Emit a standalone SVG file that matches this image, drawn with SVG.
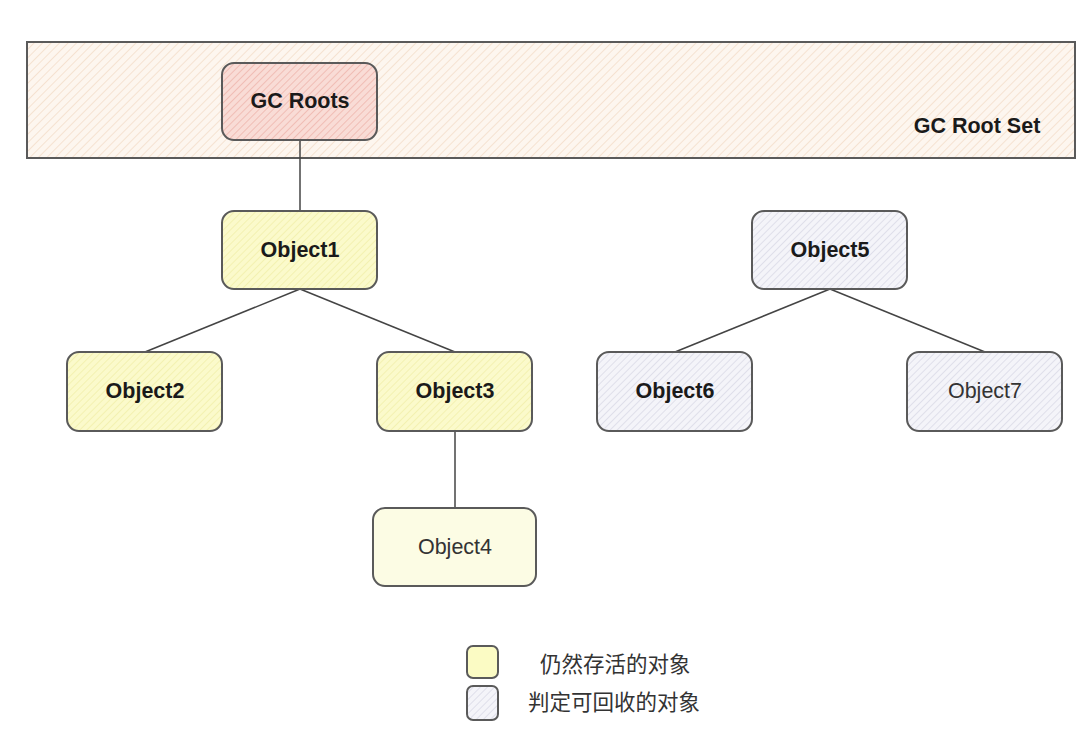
<svg xmlns="http://www.w3.org/2000/svg" width="1080" height="738" viewBox="0 0 1080 738">
<style>
.node{stroke:#5a5a5a;stroke-width:2}
.lbl{font-family:"Liberation Sans",Arial,sans-serif;font-size:21.5px;fill:#1a1a1a;text-anchor:middle;dominant-baseline:central}
.b{font-weight:bold}
.n{font-weight:normal;fill:#333}
.cn{font-family:"Noto Sans CJK SC",sans-serif;font-size:21.5px;fill:#333;dominant-baseline:central}
.conn line{stroke:#444;stroke-width:1.5}
</style>
<defs>
<pattern id="hPeach" width="6" height="6" patternUnits="userSpaceOnUse" patternTransform="rotate(45)">
<rect width="6" height="6" fill="#fdf6ef"/>
<line x1="0" y1="0" x2="0" y2="6" stroke="#f3dcc8" stroke-width="1.5"/>
</pattern>
<pattern id="hPink" width="5" height="5" patternUnits="userSpaceOnUse" patternTransform="rotate(45)">
<rect width="5" height="5" fill="#f9dcd6"/>
<line x1="0" y1="0" x2="0" y2="5" stroke="#eeb3aa" stroke-width="1.5"/>
</pattern>
<pattern id="hYellow" width="5" height="5" patternUnits="userSpaceOnUse" patternTransform="rotate(45)">
<rect width="5" height="5" fill="#fbfacb"/>
<line x1="0" y1="0" x2="0" y2="5" stroke="#f1eea8" stroke-width="1.5"/>
</pattern>
<pattern id="hLav" width="5" height="5" patternUnits="userSpaceOnUse" patternTransform="rotate(45)">
<rect width="5" height="5" fill="#f4f4f9"/>
<line x1="0" y1="0" x2="0" y2="5" stroke="#d8d8e6" stroke-width="1.5"/>
</pattern>
</defs>
<rect width="1080" height="738" fill="#ffffff"/>

<g id="rootset">
<rect x="27" y="42" width="1048" height="116" fill="url(#hPeach)" stroke="#5a5a5a" stroke-width="2"/>
<text class="lbl b" x="977" y="126">GC Root Set</text>
</g>

<g class="conn" id="connectors">
<line x1="300" y1="140" x2="300" y2="211"/>
<line x1="300" y1="289" x2="145" y2="352"/>
<line x1="300" y1="289" x2="455" y2="352"/>
<line x1="455" y1="431" x2="455" y2="508"/>
<line x1="830" y1="289" x2="675" y2="352"/>
<line x1="830" y1="289" x2="985" y2="352"/>
</g>

<g id="gcroots">
<rect class="node" x="222" y="63" width="155" height="77" rx="12" fill="url(#hPink)"/>
<text class="lbl b" x="300" y="101">GC Roots</text>
</g>
<g id="object1">
<rect class="node" x="222" y="211" width="155" height="78" rx="12" fill="url(#hYellow)"/>
<text class="lbl b" x="300" y="250">Object1</text>
</g>
<g id="object2">
<rect class="node" x="67" y="352" width="155" height="79" rx="12" fill="url(#hYellow)"/>
<text class="lbl b" x="145" y="391">Object2</text>
</g>
<g id="object3">
<rect class="node" x="377" y="352" width="155" height="79" rx="12" fill="url(#hYellow)"/>
<text class="lbl b" x="455" y="391">Object3</text>
</g>
<g id="object4">
<rect class="node" x="373" y="508" width="163" height="78" rx="12" fill="#fcfce4"/>
<text class="lbl n" x="455" y="547">Object4</text>
</g>
<g id="object5">
<rect class="node" x="752" y="211" width="155" height="78" rx="12" fill="url(#hLav)"/>
<text class="lbl b" x="830" y="250">Object5</text>
</g>
<g id="object6">
<rect class="node" x="597" y="352" width="155" height="79" rx="12" fill="url(#hLav)"/>
<text class="lbl b" x="675" y="391">Object6</text>
</g>
<g id="object7">
<rect class="node" x="907" y="352" width="155" height="79" rx="12" fill="url(#hLav)"/>
<text class="lbl n" x="985" y="391">Object7</text>
</g>

<g id="legend-alive">
<rect class="node" x="467" y="646" width="31" height="32" rx="6" fill="#fbfbc4"/>
<text class="cn" x="540" y="662">仍然存活的对象</text>
</g>
<g id="legend-collectable">
<rect class="node" x="467" y="686" width="31" height="34" rx="6" fill="url(#hLav)"/>
<text class="cn" x="528" y="700">判定可回收的对象</text>
</g>
</svg>
